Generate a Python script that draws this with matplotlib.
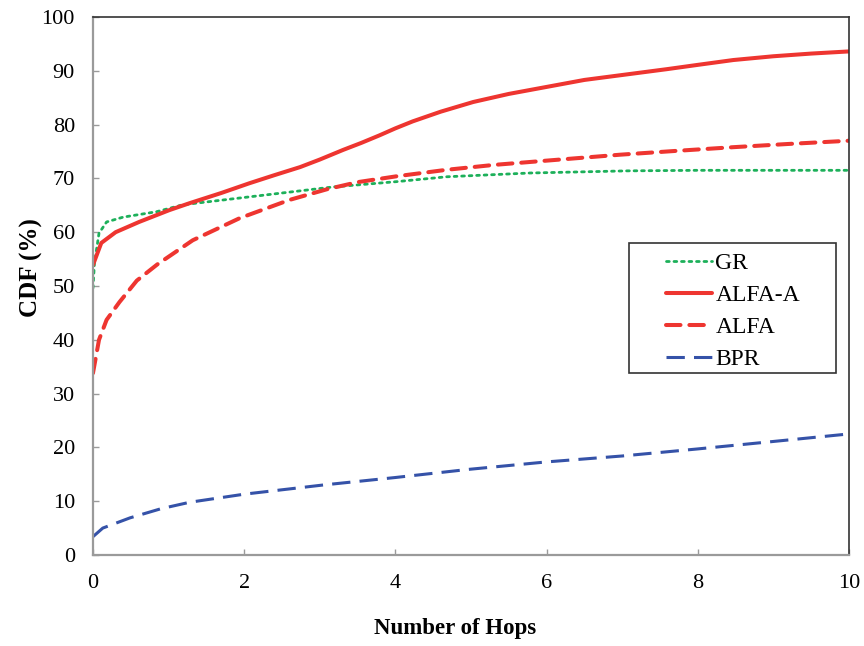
import matplotlib
matplotlib.use("Agg")
import matplotlib.pyplot as plt
from matplotlib.patches import Rectangle

plt.rcParams['font.family'] = ['Liberation Serif', 'DejaVu Serif']

# Hop-count CDF curves (x = number of hops, y = CDF in %)
gr_x = [0, 0.02, 0.08, 0.18, 0.4, 0.84, 1.19, 1.85, 2.51, 3.17, 4.02, 4.68, 5.78, 7.07, 8.0, 9.0, 10.0]
gr_y = [49.6, 54.3, 59.8, 61.9, 62.8, 63.8, 65.1, 66.2, 67.3, 68.4, 69.4, 70.3, 71.0, 71.4, 71.5, 71.5, 71.5]

alfa_a_x = [0, 0.11, 0.3, 0.61, 1.01, 1.28, 1.7, 2.07, 2.4, 2.74, 3.0, 3.31, 3.55, 3.79, 4.0,
            4.23, 4.6, 5.03, 5.5, 6.0, 6.5, 7.1, 7.59, 8.0, 8.47, 9.0, 9.5, 10.0]
alfa_a_y = [53.9, 58.0, 60.0, 61.9, 64.1, 65.4, 67.3, 69.1, 70.6, 72.1, 73.5, 75.3, 76.6, 78.0, 79.3,
            80.6, 82.4, 84.2, 85.7, 87.0, 88.3, 89.4, 90.3, 91.1, 92.0, 92.7, 93.2, 93.6]

alfa_x = [0, 0.08, 0.18, 0.35, 0.58, 0.85, 1.32, 1.94, 2.6, 3.1, 3.5, 4.02, 4.68, 5.3, 6.0, 6.97, 7.7, 8.47, 9.2, 10.0]
alfa_y = [33.8, 40.0, 43.7, 47.0, 51.0, 54.0, 58.5, 62.6, 66.0, 68.0, 69.3, 70.4, 71.6, 72.5, 73.3, 74.4, 75.1, 75.8, 76.4, 77.0]

bpr_x = [0, 0.13, 0.49, 0.9, 1.28, 2.0, 3.04, 4.0, 4.96, 6.0, 7.0, 7.99, 9.0, 10.0]
bpr_y = [3.4, 5.0, 6.9, 8.6, 9.8, 11.3, 13.0, 14.4, 15.9, 17.3, 18.4, 19.7, 21.1, 22.5]

x_ticks = [0, 2, 4, 6, 8, 10]
y_ticks = list(range(0, 101, 10))

fig = plt.figure(figsize=(8.64, 6.46), dpi=100)
ax = fig.add_axes([0.1076, 0.1409, 0.8750, 0.8328])

red = '#EE3530'
green = '#1DB05A'
blue = '#3552A8'

ax.plot(gr_x, gr_y, color=green, lw=2.0, linestyle=(0, (1, 1.7)),
        dash_capstyle='round', label='GR')
ax.plot(alfa_a_x, alfa_a_y, color=red, lw=2.9, solid_capstyle='round',
        solid_joinstyle='round', label='ALFA-A')
ax.plot(alfa_x, alfa_y, color=red, lw=2.9, linestyle=(0, (3.6, 2.2)),
        dash_capstyle='round', label='ALFA')
ax.plot(bpr_x, bpr_y, color=blue, lw=2.2, linestyle=(0, (6, 3)), label='BPR')

ax.set_xlim(0, 10)
ax.set_ylim(0, 100)
ax.set_xticks(x_ticks)
ax.set_yticks(y_ticks)

for side in ('left', 'bottom'):
    ax.spines[side].set_color('#9a9a9a')
    ax.spines[side].set_linewidth(1.6)
for side in ('top', 'right'):
    ax.spines[side].set_color('#333333')
    ax.spines[side].set_linewidth(1.2)

ax.tick_params(axis='both', direction='in', color='#9a9a9a', length=4, width=1.0,
               labelsize=16)
ax.tick_params(axis='y', pad=13)
ax.tick_params(axis='x', pad=14)

ax.set_xlabel('Number of Hops', fontsize=16.5, fontweight='bold')
ax.xaxis.set_label_coords(0.479, -0.118)
ax.set_ylabel('CDF (%)', fontsize=18, fontweight='bold')
ax.yaxis.set_label_coords(-0.066, 0.535)

# legend frame drawn separately so the margins around the entries can be set freely
frame = Rectangle((0.7092, 0.338), 0.2742, 0.2415, transform=ax.transAxes,
                  facecolor='white', edgecolor='#333333', lw=1.2, zorder=4)
ax.add_patch(frame)
leg = ax.legend(loc='center left', bbox_to_anchor=(0.7576, 0.453), fontsize=17,
                frameon=False, handlelength=1.95, handletextpad=0.15,
                borderpad=0, labelspacing=0.45, borderaxespad=0)
leg.set_zorder(5)

fig.savefig('out.png', dpi=100)
